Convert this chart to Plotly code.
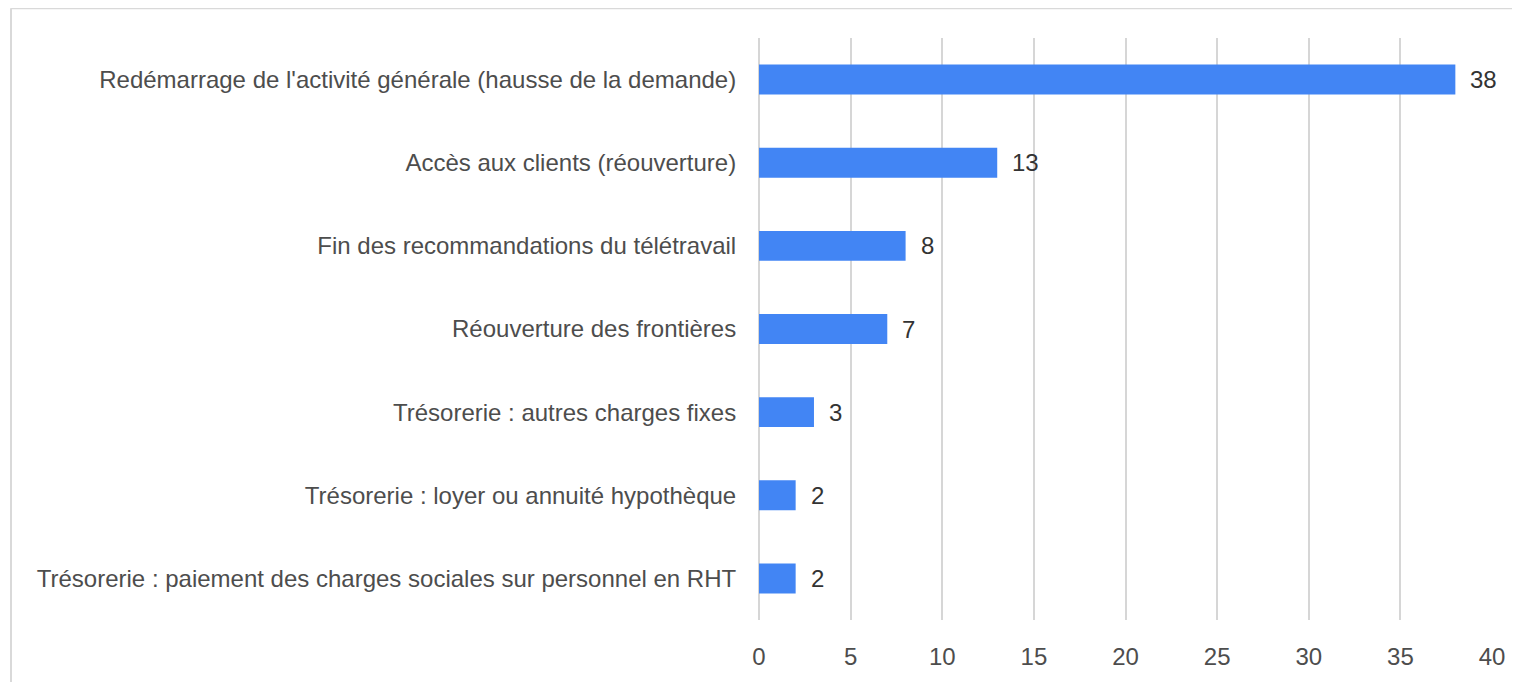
import plotly.graph_objects as go

categories = [
    "Redémarrage de l'activité générale (hausse de la demande)",
    "Accès aux clients (réouverture)",
    "Fin des recommandations du télétravail",
    "Réouverture des frontières",
    "Trésorerie : autres charges fixes",
    "Trésorerie : loyer ou annuité hypothèque",
    "Trésorerie : paiement des charges sociales sur personnel en RHT",
]
values = [38, 13, 8, 7, 3, 2, 2]
x_ticks = [0, 5, 10, 15, 20, 25, 30, 35, 40]

FONT = "Liberation Sans, Arial, sans-serif"
FS = 24

fig = go.Figure(go.Bar(
    x=values, y=categories, orientation="h",
    marker=dict(color="#4285F4", line=dict(width=0)),
    width=0.36,
))

for c, v in zip(categories, values):
    fig.add_annotation(x=v, y=c, text=str(v), showarrow=False, xanchor="left",
                       xshift=13, font=dict(family=FONT, size=FS, color="#333333"))

OFF = 8  # page body margin
W, H = 1520 - OFF, 682 - OFF
L, R, T, B = 759 - OFF, 28, 38 - OFF, 56
pw, ph = W - L - R, H - T - B
fx = lambda px: (px - OFF - L) / pw
fy = lambda py: 1 - (py - OFF - T) / ph
frame = dict(color="#d9d9d9", width=2)
fig.add_shape(type="line", xref="paper", yref="paper", x0=fx(11), x1=fx(1530), y0=fy(8), y1=fy(8), line=frame)
fig.add_shape(type="line", xref="paper", yref="paper", x0=fx(11), x1=fx(11), y0=fy(8), y1=fy(700), line=frame)

fig.update_layout(
    width=W, height=H,
    margin=dict(l=L, r=R, t=T, b=B, pad=0),
    plot_bgcolor="white", paper_bgcolor="white",
    showlegend=False,
    font=dict(family=FONT, size=FS, color="#4d4d4d"),
    xaxis=dict(range=[0, 40], tickvals=x_ticks, showgrid=True, gridcolor="#d6d6d6",
               gridwidth=2, zeroline=True, zerolinecolor="#d6d6d6", zerolinewidth=2,
               showline=False, ticks="outside",
               ticklen=15, tickcolor="rgba(0,0,0,0)",
               tickfont=dict(family=FONT, size=FS, color="#4d4d4d")),
    yaxis=dict(categoryorder="array", categoryarray=categories[::-1], showgrid=False,
               zeroline=False, ticks="outside", ticklen=17, tickcolor="rgba(0,0,0,0)",
               tickfont=dict(family=FONT, size=FS, color="#4d4d4d")),
)

fig.write_html("out.html")
